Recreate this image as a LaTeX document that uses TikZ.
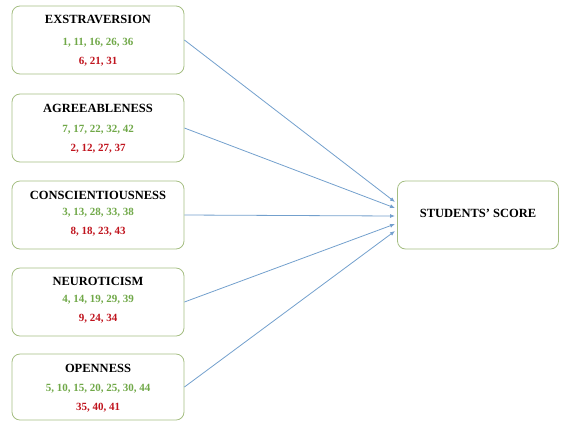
\documentclass[tikz,border=0pt]{standalone}
\usepackage{fontspec}
\setmainfont{Liberation Serif}
\usetikzlibrary{arrows.meta}
\definecolor{boxline}{RGB}{165,190,130}
\definecolor{grn}{RGB}{112,168,72}
\definecolor{rd}{RGB}{192,20,30}
\definecolor{arr}{RGB}{115,160,205}
\tikzset{
  trait/.style={draw=boxline, line width=0.8pt, rounded corners=8pt, minimum width=172pt, minimum height=68pt, inner sep=0pt},
  ttl/.style={font=\bfseries\fontsize{12.5}{14}\selectfont, inner sep=0pt},
  posit/.style={font=\bfseries\fontsize{11}{12}\selectfont, text=grn, inner sep=0pt},
  negat/.style={font=\bfseries\fontsize{11}{12}\selectfont, text=rd, inner sep=0pt},
  link/.style={draw=arr, line width=0.8pt, -{Latex[length=5pt,width=4pt]}}
}
\begin{document}
\begin{tikzpicture}[x=1pt,y=-1pt]
\useasboundingbox (0,0) rectangle (561,421);
% trait boxes
\node[trait] (b1) at (98,40) {};
\node[trait] (b2) at (98,128) {};
\node[trait] (b3) at (98,215) {};
\node[trait] (b4) at (98,302) {};
\node[trait, minimum height=66pt] (b5) at (98,387) {};
% outcome box
\node[trait, minimum width=161pt, minimum height=68pt] (s) at (478,215) {};
\node[ttl] (st) at (478,213) {STUDENTS’ SCORE};
% texts
\node[ttl] (t1) at (98,19) {EXSTRAVERSION};
\node[posit] (p1) at (98,43) {1, 11, 16, 26, 36};
\node[negat] (n1) at (98,62) {6, 21, 31};
\node[ttl] (t2) at (98,108) {AGREEABLENESS};
\node[posit] (p2) at (98,130) {7, 17, 22, 32, 42};
\node[negat] (n2) at (98,149) {2, 12, 27, 37};
\node[ttl] (t3) at (98,195) {CONSCIENTIOUSNESS};
\node[posit] (p3) at (98,213) {3, 13, 28, 33, 38};
\node[negat] (n3) at (98,232) {8, 18, 23, 43};
\node[ttl] (t4) at (98,281) {NEUROTICISM};
\node[posit] (p4) at (98,300) {4, 14, 19, 29, 39};
\node[negat] (n4) at (98,319) {9, 24, 34};
\node[ttl] (t5) at (98,368) {OPENNESS};
\node[posit] (p5) at (98,389) {5, 10, 15, 20, 25, 30, 44};
\node[negat] (n5) at (98,408) {35, 40, 41};
% arrow targets
\coordinate (e1) at (395,202);
\coordinate (e2) at (395,208);
\coordinate (e3) at (395,216);
\coordinate (e4) at (395,224);
\coordinate (e5) at (395,231);
\draw[link] (b1.east) -- (e1);
\draw[link] (b2.east) -- (e2);
\draw[link] (b3.east) -- (e3);
\draw[link] (b4.east) -- (e4);
\draw[link] (b5.east) -- (e5);
\end{tikzpicture}
\end{document}
